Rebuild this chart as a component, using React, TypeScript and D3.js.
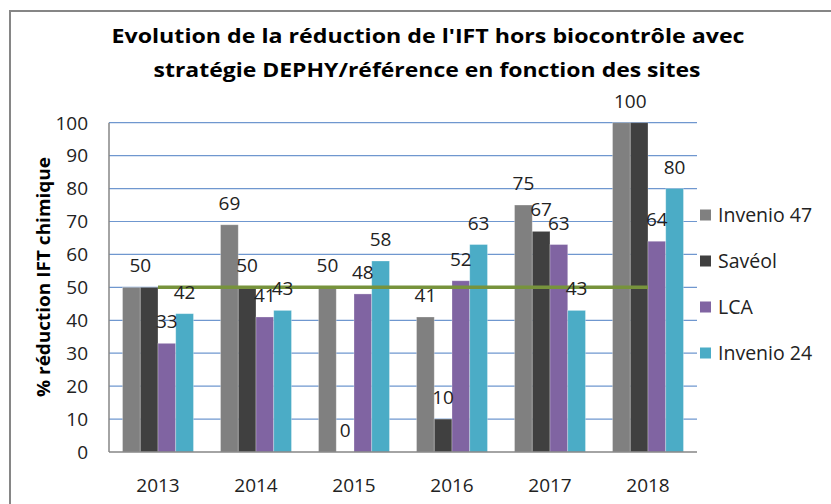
import React from 'react'
import * as d3 from 'd3'

// annees (categories)
const years = ['2013', '2014', '2015', '2016', '2017', '2018']
const seriesNames = ['Invenio 47', 'Savéol', 'LCA', 'Invenio 24']
const invenio47 = [50, 69, 50, 41, 75, 100]
const saveol = [50, 50, 0, 10, 67, 100]
const lca = [33, 41, 48, 52, 63, 64]
const invenio24 = [42, 43, 58, 63, 43, 80]
const objectif = [50, 50, 50, 50, 50, 50]
const yTicks = [0, 10, 20, 30, 40, 50, 60, 70, 80, 90, 100]

const colors = ['#808080', '#404040', '#8064A2', '#4BACC6']
const font = '"Open Sans", "Liberation Sans", sans-serif'

export default function App() {
    const values = [invenio47, saveol, lca, invenio24]
    const margin = { top: 122.7, left: 109, bottom: 452, right: 697 }

    const x = d3.scaleBand()
        .domain(years)
        .range([margin.left, margin.right])
        .paddingInner(0.276)
        .paddingOuter(0.138)
    const xs = d3.scaleBand()
        .domain(seriesNames)
        .range([0, x.bandwidth()])
    const y = d3.scaleLinear()
        .domain([0, 100])
        .range([margin.bottom, margin.top])

    const line = d3.line<number>()
        .x((d, i) => (x(years[i]) as number) + x.bandwidth() / 2)
        .y(d => y(d))

    // etiquettes : deux barres voisines de meme valeur -> une seule etiquette au milieu
    const labels: { x: number, y: number, text: string }[] = []
    years.forEach((yr, i) => {
        let s = 0
        while (s < seriesNames.length) {
            const v = values[s][i]
            let cx = (x(yr) as number) + (xs(seriesNames[s]) as number) + xs.bandwidth() / 2
            if (s + 1 < seriesNames.length && values[s + 1][i] === v) {
                cx += xs.bandwidth() / 2
                labels.push({ x: cx, y: y(v) - 15, text: String(v) })
                s += 2
            } else {
                labels.push({ x: cx, y: y(v) - 15, text: String(v) })
                s += 1
            }
        }
    })

    return (
        <svg width={831} height={504} style={{ position: 'absolute', left: 0, top: 0, background: '#fff' }}
            fontFamily={font}>
            <rect x={10} y={11} width={860} height={540} fill="#fff" stroke="#868686" strokeWidth={2} />

            <text x={428} y={43.3} textAnchor="middle" fontWeight="bold" fontSize={20}
                textLength={633} lengthAdjust="spacingAndGlyphs" fill="#000">
                Evolution de la réduction de l'IFT hors biocontrôle avec
            </text>
            <text x={427} y={76.7} textAnchor="middle" fontWeight="bold" fontSize={20}
                textLength={547} lengthAdjust="spacingAndGlyphs" fill="#000">
                stratégie DEPHY/référence en fonction des sites
            </text>

            {/* grille */}
            {yTicks.filter(t => t > 0).map(t => (
                <line key={t} x1={margin.left} x2={margin.right} y1={y(t)} y2={y(t)}
                    stroke="#6F97CF" strokeWidth={1.2} />
            ))}
            {yTicks.map(t => (
                <text key={'t' + t} x={88} y={y(t)} dy="0.36em" textAnchor="end" fontSize={19} fill="#222">
                    {t}
                </text>
            ))}

            {/* barres */}
            {values.map((serie, s) => serie.map((v, i) => (
                <rect key={s + '-' + i}
                    x={(x(years[i]) as number) + (xs(seriesNames[s]) as number)}
                    y={y(v)}
                    width={xs.bandwidth()}
                    height={margin.bottom - y(v)}
                    fill={colors[s]}
                    stroke="#ffffff" strokeOpacity={0.35} strokeWidth={0.8} />
            )))}

            {/* axes */}
            <line x1={margin.left} x2={margin.left} y1={margin.top} y2={margin.bottom} stroke="#868686" strokeWidth={1.5} />
            <line x1={margin.left} x2={margin.right} y1={margin.bottom} y2={margin.bottom} stroke="#868686" strokeWidth={1.5} />
            {years.map(yr => (
                <text key={yr} x={(x(yr) as number) + x.bandwidth() / 2} y={491.5} textAnchor="middle" fontSize={19} fill="#222">
                    {yr}
                </text>
            ))}

            <path d={line(objectif) || ''} fill="none" stroke="#77933C" strokeWidth={3.5} />

            {labels.map((l, i) => (
                <text key={'l' + i} x={l.x} y={l.y} textAnchor="middle" fontSize={19} fill="#222">
                    {l.text}
                </text>
            ))}

            <text transform="translate(50,277) rotate(-90)" textAnchor="middle" fontWeight="bold" fontSize={18}
                textLength={240} lengthAdjust="spacingAndGlyphs" fill="#000">
                % réduction IFT chimique
            </text>

            {/* legende */}
            {seriesNames.map((name, s) => (
                <g key={name} transform={`translate(700,${215 + s * 46})`}>
                    <rect x={0} y={-5.5} width={11} height={11} fill={colors[s]} />
                    <text x={18} y={0} dy="0.36em" fontSize={19.5} fill="#222">{name}</text>
                </g>
            ))}
        </svg>
    )
}
